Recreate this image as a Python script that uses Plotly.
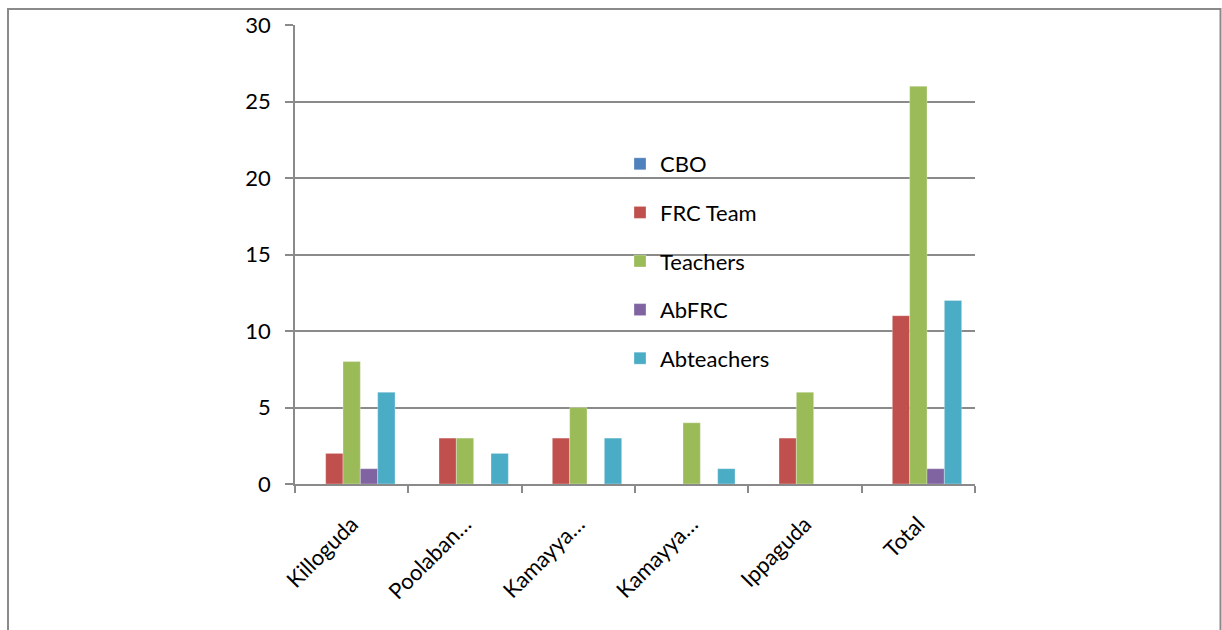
import plotly.graph_objects as go

categories = ["Killoguda", "Poolaban…", "Kamayya…", "Kamayya…", "Ippaguda", "Total"]
series_names = ["CBO", "FRC Team", "Teachers", "AbFRC", "Abteachers"]
cbo = [0, 0, 0, 0, 0, 0]
frc_team = [2, 3, 3, 0, 3, 11]
teachers = [8, 3, 5, 4, 6, 26]
abfrc = [1, 0, 0, 0, 0, 1]
abteachers = [6, 2, 3, 1, 0, 12]
colors = ["#4F81BD", "#C0504D", "#9BBB59", "#8064A2", "#4BACC6"]
y_ticks = [0, 5, 10, 15, 20, 25, 30]

xpos = list(range(len(categories)))
values = [cbo, frc_team, teachers, abfrc, abteachers]

FONT = "Lato, 'Open Sans', sans-serif"
FS = 22

fig = go.Figure()
for i, (name, vals) in enumerate(zip(series_names, values)):
    fig.add_trace(go.Bar(
        x=xpos, y=vals, name=name, legendgroup=name,
        marker=dict(color=colors[i], line=dict(color="rgba(255,255,255,0.6)", width=0.5)),
    ))

L, R, T, B = 295, 975, 25, 484
W, H = 1222, 630
pw, ph = R - L, B - T

def px(x):
    return (x - L) / pw

def py(y):
    return (B - y) / ph

fig.add_shape(type="rect", xref="paper", yref="paper",
              x0=px(8), x1=px(1220.5), y0=py(9), y1=py(660),
              line=dict(color="#8a8a8a", width=2), fillcolor="rgba(0,0,0,0)", layer="below")

fig.update_layout(
    width=W, height=H,
    margin=dict(l=L, r=W - R, t=T, b=H - B, pad=0),
    paper_bgcolor="white", plot_bgcolor="white",
    barmode="group", bargap=0.235, bargroupgap=0,
    font=dict(family=FONT, size=FS, color="black"),
    showlegend=True,
    legend=dict(x=px(620), y=py(143), xanchor="left", yanchor="top",
                traceorder="grouped", tracegroupgap=17,
                font=dict(family=FONT, size=FS, color="black"),
                bgcolor="rgba(0,0,0,0)", itemwidth=30),
    xaxis=dict(
        range=[-0.5, 5.5], tickmode="array", tickvals=xpos, ticktext=categories,
        tickangle=-45, ticks="", showgrid=False, zeroline=False,
        showline=True, linecolor="#8a8a8a", linewidth=1.5,
        tickfont=dict(family=FONT, size=FS, color="black"),
        ticklabelstandoff=17,
        minor=dict(tickmode="array", tickvals=[i - 0.5 for i in range(len(categories) + 1)],
                   ticks="outside", ticklen=7, tickwidth=1.5, tickcolor="#8a8a8a", showgrid=False),
    ),
    yaxis=dict(
        range=[0, 30], tickmode="array", tickvals=y_ticks,
        ticks="outside", ticklen=8, tickwidth=1.5, tickcolor="#8a8a8a",
        showgrid=True, gridcolor="#8a8a8a", gridwidth=1.5,
        zeroline=False, showline=True, linecolor="#8a8a8a", linewidth=1.5,
        tickfont=dict(family=FONT, size=FS, color="black"),
        ticklabelstandoff=10,
    ),
)

fig.write_html("out.html", config={"displayModeBar": False},
               post_script="document.body.style.margin='0px';document.body.style.overflow='hidden';")
